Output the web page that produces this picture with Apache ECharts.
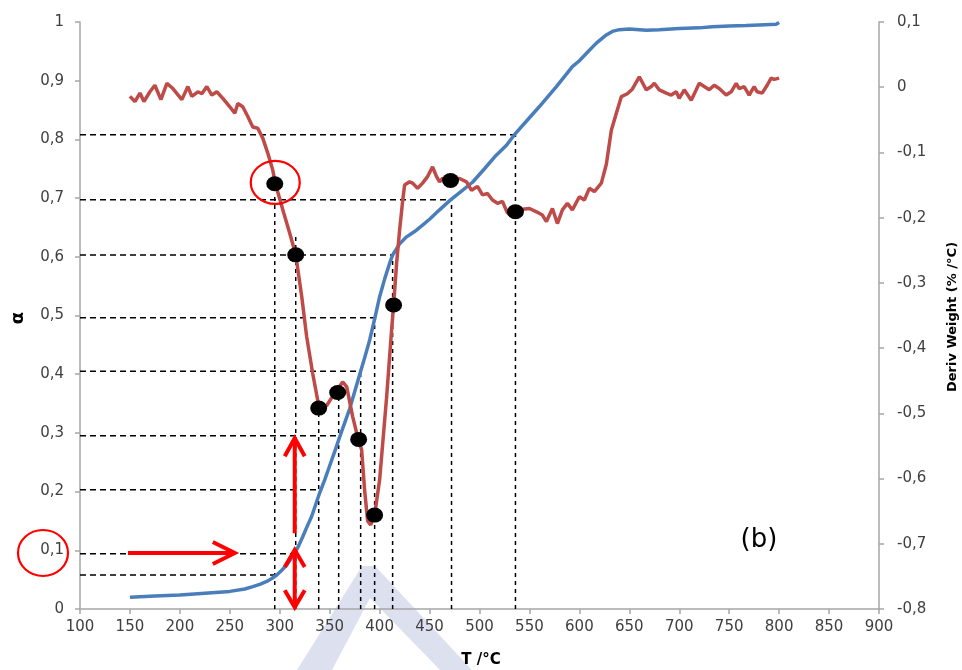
<!DOCTYPE html>
<html>
<head>
<meta charset="utf-8">
<script src="https://cdn.jsdelivr.net/npm/echarts@6/dist/echarts.min.js"></script>
<style>
html,body{margin:0;padding:0;background:#fff;}
#c{width:962px;height:670px;}
</style>
</head>
<body>
<div id="c"></div>
<script>
// ---- data ----
const alphaT = [150,175,200,225,250,265,273,280,287,292,297,302,307,311,315,319,323,327,332,336,340,345,350,355,360,365,370,375,381,385,390,395,400,405,410,413,417,420,427,435,443,450,460,471,482,493,505,515,527,535,548,560,577,593,600,610,617,627,633,640,650,667,680,700,720,733,750,767,780,797,800];
const alphaV = [0.020,0.022,0.024,0.027,0.030,0.034,0.038,0.042,0.047,0.052,0.058,0.066,0.075,0.085,0.095,0.108,0.123,0.139,0.158,0.178,0.198,0.220,0.244,0.268,0.293,0.317,0.341,0.370,0.405,0.428,0.458,0.494,0.532,0.562,0.589,0.603,0.614,0.622,0.634,0.643,0.654,0.664,0.680,0.697,0.712,0.727,0.750,0.770,0.790,0.808,0.833,0.856,0.890,0.924,0.934,0.952,0.964,0.978,0.984,0.987,0.988,0.986,0.987,0.989,0.990,0.992,0.993,0.994,0.995,0.996,0.999];

const derivT = [150,155,160,164,170,175,181,187,193,202,208,212,218,222,227,232,237,243,250,255,258,263,268,273,278,283,288,293,296,304,310,316,322,327,333,338,341,347,355,363,367,373,378,382,385,388,391,395,400,407,412,414,417,420,423,425,430,433,438,443,448,453,457,460,463,471,480,487,492,498,503,508,513,518,523,528,536,543,550,557,563,567,573,578,583,588,593,600,605,610,615,622,627,632,637,642,648,653,660,667,672,675,680,687,692,697,700,705,707,712,717,720,725,730,735,740,747,752,757,760,765,770,775,778,783,788,792,795,800];
const derivV = [-0.014,-0.022,-0.009,-0.022,-0.007,0.003,-0.019,0.006,-0.002,-0.019,0.001,-0.014,-0.007,-0.010,0.001,-0.012,-0.007,-0.017,-0.030,-0.040,-0.025,-0.030,-0.045,-0.061,-0.063,-0.078,-0.101,-0.127,-0.150,-0.193,-0.224,-0.257,-0.321,-0.383,-0.439,-0.480,-0.492,-0.488,-0.469,-0.452,-0.459,-0.505,-0.536,-0.556,-0.618,-0.665,-0.671,-0.656,-0.602,-0.475,-0.372,-0.334,-0.270,-0.219,-0.175,-0.150,-0.145,-0.147,-0.155,-0.147,-0.137,-0.122,-0.137,-0.145,-0.140,-0.140,-0.140,-0.145,-0.158,-0.152,-0.165,-0.163,-0.173,-0.178,-0.175,-0.193,-0.192,-0.187,-0.186,-0.191,-0.196,-0.206,-0.186,-0.209,-0.188,-0.178,-0.188,-0.168,-0.173,-0.155,-0.160,-0.147,-0.118,-0.066,-0.040,-0.0145,-0.010,-0.003,0.016,-0.004,0.001,0.006,-0.004,-0.009,-0.012,-0.007,-0.017,-0.004,-0.002,-0.020,-0.004,0.006,0.001,-0.004,0.003,-0.002,-0.012,-0.007,0.006,-0.002,0.001,-0.012,0.001,-0.007,-0.009,0.003,0.014,0.012,0.014];

const dotT = [295,316,339,358,379,395,414,471,536];
const dotV = [-0.148,-0.257,-0.492,-0.468,-0.540,-0.656,-0.334,-0.143,-0.191];

// dashed guide lines: vertical at guideT, horizontal at guideLevel, vertical reaches guideTop (alpha units)
const guideT = [295,316,339,359,381,395,413,472,536];
const guideLevel = [0.058,0.094,0.203,0.295,0.405,0.496,0.603,0.697,0.808];
const guideTop = [0.702,0.640,0.342,0.368,0.405,0.496,0.603,0.697,0.808];

const xMin = 100, xMax = 900, xStep = 50;
const aMin = 0, aMax = 1, aStep = 0.1;
const dMin = -0.8, dMax = 0.1, dStep = 0.1;

// ---- chart ----
const fmt = v => String(Math.round(v*10)/10).replace('.', ',');
const FONT = 'DejaVu Sans';
const axisCol = '#a6a6a6';
const labelStyle = {color:'#404040', fontFamily:FONT, fontSize:15};

const series = [];
guideT.forEach((t,i) => {
  series.push({type:'line', yAxisIndex:0, symbol:'none', silent:true, z:1,
    data:[[xMin, guideLevel[i]],[t, guideLevel[i]]],
    lineStyle:{color:'#000', width:1.5, type:[6,4]}});
  series.push({type:'line', yAxisIndex:0, symbol:'none', silent:true, z:1,
    data:[[t, aMin],[t, guideTop[i]]],
    lineStyle:{color:'#000', width:1.5, type:[4,4]}});
});
series.push({type:'line', name:'alpha', yAxisIndex:0, symbol:'none', z:3,
  data: alphaT.map((t,i)=>[t, alphaV[i]]),
  lineStyle:{color:'#4A7EBB', width:3.5}});
series.push({type:'line', name:'deriv', yAxisIndex:1, symbol:'none', z:4,
  data: derivT.map((t,i)=>[t, derivV[i]]),
  lineStyle:{color:'#BE4B48', width:3.5}});
series.push({type:'scatter', yAxisIndex:1, z:6, symbol:'circle', symbolSize:[17,15],
  itemStyle:{color:'#000', opacity:1}, data: dotT.map((t,i)=>[t, dotV[i]])});

const chart = echarts.init(document.getElementById('c'), null, {renderer:'canvas'});
chart.setOption({
  animation:false,
  backgroundColor:'#fff',
  grid:{left:80, right:83, top:22, bottom:61, containLabel:false},
  xAxis:{type:'value', min:xMin, max:xMax, interval:xStep,
    axisLine:{lineStyle:{color:axisCol, width:1.5}},
    axisTick:{show:true, length:5, lineStyle:{color:axisCol, width:1.5}},
    axisLabel:Object.assign({margin:11}, labelStyle),
    splitLine:{show:false}},
  yAxis:[
    {type:'value', position:'left', min:aMin, max:aMax, interval:aStep,
     axisLine:{show:true, lineStyle:{color:axisCol, width:1.5}},
     axisTick:{show:true, length:5, lineStyle:{color:axisCol, width:1.5}},
     axisLabel:Object.assign({margin:16, formatter:fmt}, labelStyle),
     splitLine:{show:false}},
    {type:'value', position:'right', min:dMin, max:dMax, interval:dStep,
     axisLine:{show:true, lineStyle:{color:axisCol, width:1.5}},
     axisTick:{show:true, length:5, lineStyle:{color:axisCol, width:1.5}},
     axisLabel:Object.assign({margin:18, formatter:fmt}, labelStyle),
     splitLine:{show:false}}
  ],
  series: series
});

// ---- annotations ----
const pa = (t,a) => chart.convertToPixel({xAxisIndex:0, yAxisIndex:0}, [t,a]);
const pd = (t,d) => chart.convertToPixel({xAxisIndex:0, yAxisIndex:1}, [t,d]);
const RED = '#FF0000';
const lineEl = (x1,y1,x2,y2,w) => ({type:'line', z:20, shape:{x1,y1,x2,y2},
  style:{stroke:RED, lineWidth:w||4, lineCap:'butt'}});
const chevron = (tx,ty,ax1,ay1,ax2,ay2) => ({type:'polyline', z:20,
  shape:{points:[[ax1,ay1],[tx,ty],[ax2,ay2]]},
  style:{stroke:RED, lineWidth:4, fill:null, lineJoin:'miter'}});

const c1 = pd(295.5, -0.146);
const hA = pa(148, 0.0955), hB = pa(255, 0.0955);
const uA = pa(315, 0.129), uB = pa(315, 0.291);
const dA = pa(315, 0.1005), dB = pa(315, 0.003);

const graphics = [
  // watermark
  {type:'polygon', z:0, silent:true,
   shape:{points:[[297,670],[362,566],[375,566],[472,670],[440,670],[370,598],[332,670]]},
   style:{fill:'rgba(185,194,224,0.5)'}},
  // circle around first dot
  {type:'ellipse', z:20, shape:{cx:c1[0], cy:c1[1], rx:24.5, ry:21.5},
   style:{stroke:RED, lineWidth:2.2, fill:null}},
  // circle around 0,1 label
  {type:'ellipse', z:20, shape:{cx:43, cy:553, rx:25, ry:23},
   style:{stroke:RED, lineWidth:2.2, fill:null}},
  // horizontal arrow
  lineEl(hA[0], hA[1], hB[0]-2, hB[1]),
  chevron(hB[0], hB[1], hB[0]-22, hB[1]-11, hB[0]-22, hB[1]+11),
  // upward arrow
  lineEl(uA[0], uA[1], uB[0], uB[1]+2),
  chevron(uB[0], uB[1], uB[0]-10, uB[1]+18, uB[0]+10, uB[1]+18),
  // double arrow
  lineEl(dA[0], dA[1]+2, dB[0], dB[1]-2),
  chevron(dA[0], dA[1], dA[0]-10, dA[1]+17, dA[0]+10, dA[1]+17),
  chevron(dB[0], dB[1], dB[0]-10, dB[1]-17, dB[0]+10, dB[1]-17),
  // texts
  {type:'text', z:20, x:759, y:540, style:{text:'(b)', fill:'#000', font:'26px "DejaVu Sans"', textAlign:'center', textVerticalAlign:'middle'}},
  {type:'text', z:20, x:481, y:660, style:{text:'T /°C', fill:'#000', font:'bold 15px "DejaVu Sans"', textAlign:'center', textVerticalAlign:'middle'}},
  {type:'text', z:20, x:18, y:318, rotation:Math.PI/2, style:{text:'α', fill:'#000', font:'bold 18px "DejaVu Sans"', textAlign:'center', textVerticalAlign:'middle'}},
  {type:'text', z:20, x:953, y:317, rotation:Math.PI/2, style:{text:'Deriv Weight (% /°C)', fill:'#000', font:'bold 13px "DejaVu Sans"', textAlign:'center', textVerticalAlign:'middle'}}
];
chart.setOption({graphic: graphics});
</script>
</body>
</html>
